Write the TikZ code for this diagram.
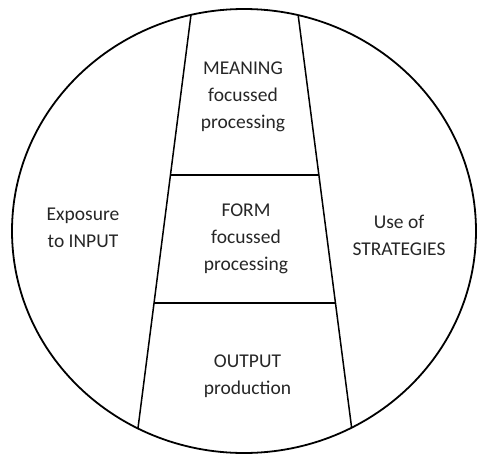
\documentclass[tikz,border=0pt]{standalone}
\usepackage{fontspec}
\setmainfont{Carlito}
\tikzset{
    label text/.style={align=center, font=\fontsize{19.5}{27}\selectfont, text=black!85},
    outline/.style={draw, line width=1.8pt},
    divider/.style={draw, line width=1.5pt}
}
\begin{document}
\begin{tikzpicture}[x=1pt, y=-1pt]
        \useasboundingbox (0,0) rectangle (477,453);

        % outer circle
        \draw[outline] (244,231) ellipse [x radius=232, y radius=222];

        % the ladder in the middle
        \begin{scope}
            \clip (244,231) ellipse [x radius=232, y radius=222];
            \draw[divider] (192.9,0) -- (134.8,453);
            \draw[divider] (296.2,0) -- (354.9,453);
        \end{scope}
        \draw[divider] (170.4,175) -- (318.9,175);
        \draw[divider] (154.0,303) -- (335.4,303);

        \node[label text] (meaning) at (243,96.5) {MEANING\\focussed\\processing};
        \node[label text] (form) at (246,239) {FORM\\focussed\\processing};
        \node[label text] (output) at (247.5,376.5) {OUTPUT\\production};
        \node[label text] (input) at (83,228) {Exposure\\to INPUT};
        \node[label text] (strategies) at (399,235) {Use of\\STRATEGIES};
    \end{tikzpicture}
\end{document}
